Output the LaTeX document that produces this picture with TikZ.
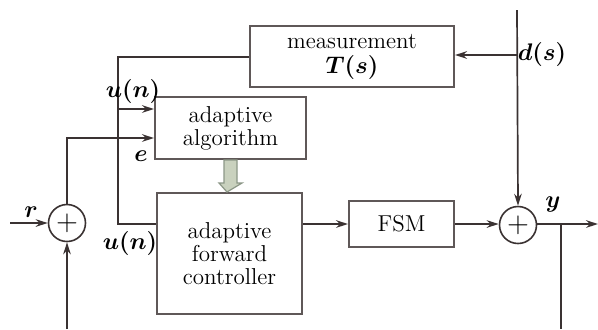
\documentclass[tikz,border=0pt]{standalone}
\definecolor{wirec}{HTML}{3A3232}
\definecolor{framec}{HTML}{5F5858}
\definecolor{updfill}{HTML}{C9D1BE}
\definecolor{upddraw}{HTML}{8C9787}
\usepackage{amsmath,bm}
\usepackage{xcolor}
\usepackage{tikz}
\usetikzlibrary{arrows.meta,positioning,calc}

\begin{document}
\begin{tikzpicture}[
      x=0.5pt,y=-0.5pt,
      font=\fontsize{11.5}{11.5}\selectfont,
      box/.style={draw=framec,line width=1pt,inner sep=0pt,align=center},
      sum/.style={draw=wirec,line width=0.8pt,circle,minimum size=18.5pt,
                  inner sep=0pt,font=\fontsize{14}{14}\selectfont},
      arr/.style={-{Stealth[length=6pt,width=3.8pt]},wirec,line width=0.85pt},
      wire/.style={wirec,line width=0.85pt},
      upd/.style={draw=upddraw,fill=updfill,line width=0.6pt},
      lbl/.style={inner sep=0pt}
    ]
      \useasboundingbox (0,0) rectangle (598,329);
      % blocks
      \node[box,minimum width=102pt,minimum height=30.5pt] (meas) at (352,56.5)
           {measurement\\[1pt]$\bm{T(s)}$};
      \node[box,minimum width=75.5pt,minimum height=31pt] (alg) at (230.5,128)
           {adaptive\\algorithm};
      \node[box,minimum width=72.5pt,minimum height=60.5pt] (ctrl) at (229.5,253.5)
           {adaptive\\forward\\controller};
      \node[box,minimum width=52.5pt,minimum height=23pt] (fsm) at (401.5,224) {FSM};
      \node[sum] (s1) at (67,223) {$+$};
      \node[sum] (s2) at (518,225) {$+$};
      % free ends
      \coordinate (rin)  at (10,223);
      \coordinate (dtop) at (517,10);
      \coordinate (yout) at (598,224);
      \coordinate (fbr)  at (561,224);
      \coordinate (fbb)  at (561,329);
      \coordinate (fbl)  at (67,329);
      \coordinate (tap)  at (118,57);
      % signal paths
      \draw[arr] (rin) -- (s1.west);
      \draw[arr] (s1.north) |- ($(alg.west)+(0,10)$);
      \draw[wire] (meas.west |- tap) -- (tap) |- (ctrl.west |- 0,224);
      \draw[arr] ($(tap)+(0,52)$) -- ($(alg.west)+(0,-19)$);
      \draw[arr] (ctrl.east |- 0,224) -- (fsm.west);
      \draw[arr] (fsm.east) -- (s2.west |- fsm.east);
      \draw[arr] (dtop) -- (s2.north);
      \draw[arr] (dtop |- 0,55) -- (meas.east |- 0,55);
      \draw[arr] (s2.east |- yout) -- (yout);
      \draw[wire] (fbr) -- (fbb);
      \draw[arr] (fbl) -- (s1.south);
      % coefficient update
      \draw[upd] ($(alg.south)+(-6.5,0)$) -- ++(0,23) -- ++(-5,0) -- (ctrl.north -| 227,0)
                 -- ($(alg.south)+(11.5,23)$) -- ++(-5,0) -- ++(0,-23) -- cycle;
      % labels
      \node[lbl] (lun) at (133,91)  {$\bm{u(n)}$};
      \node[lbl] (le)  at (141,156) {$\bm{e}$};
      \node[lbl] (lu2) at (130,243) {$\bm{u(n)}$};
      \node[lbl] (lr)  at (31,212)  {$\bm{r}$};
      \node[lbl] (ly)  at (553,204) {$\bm{y}$};
      \node[lbl] (ld)  at (542,54)  {$\bm{d(s)}$};
    \end{tikzpicture}
\end{document}
